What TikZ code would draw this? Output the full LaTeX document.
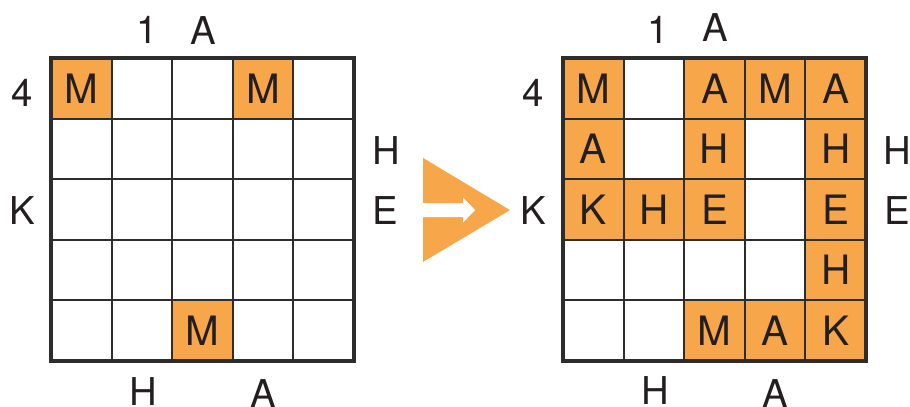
\documentclass[tikz,border=0pt]{standalone}
\usepackage{fontspec}
\setmainfont{TeX Gyre Heros}
\definecolor{puzorange}{RGB}{247,166,74}
\definecolor{ink}{RGB}{35,31,32}
\definecolor{gridline}{RGB}{45,45,45}
\begin{document}
\begin{tikzpicture}[every node/.style={text=ink,inner sep=0pt},
  lit/.style={fill=puzorange,minimum size=1cm,font=\fontsize{19}{19}\selectfont},
  clue/.style={font=\fontsize{18}{18}\selectfont},
  gridrule/.style={gridline,line width=1pt},
  framerule/.style={gridline,line width=1.6pt}]
\useasboundingbox (-0.842,-0.759) rectangle (14.175,5.957);
% Puzzle (start)
\node[lit] (a11) at (0.5,4.5) {M};
\node[lit] (a14) at (3.5,4.5) {M};
\node[lit] (a53) at (2.5,0.5) {M};
\draw[gridrule] (0,0) grid (5,5);
\draw[framerule] (0,0) rectangle (5,5);
\node[clue] (aTop2) at (1.585,5.46) {1};
\node[clue] (aTop3) at (2.51,5.45) {A};
\node[clue] (aLeft1) at (-0.48,4.42) {4};
\node[clue] (aLeft3) at (-0.48,2.49) {K};
\node[clue] (aRight2) at (5.53,3.48) {H};
\node[clue] (aRight3) at (5.51,2.49) {E};
\node[clue] (aBot2) at (1.52,-0.50) {H};
\node[clue] (aBot4) at (3.51,-0.53) {A};
% Arrow between the two grids
\fill[puzorange] (6.139,3.35) -- (7.574,2.49) -- (6.139,1.634) -- cycle;
\fill[white] (6.139,2.375) -- (6.80,2.375) -- (6.80,2.285) -- (7.0,2.49)
  -- (6.80,2.695) -- (6.80,2.605) -- (6.139,2.605) -- cycle;
% Puzzle (solved)
\begin{scope}[xshift=8.449cm]
\node[lit] (b11) at (0.5,4.5) {M};
\node[lit] (b13) at (2.5,4.5) {A};
\node[lit] (b14) at (3.5,4.5) {M};
\node[lit] (b15) at (4.5,4.5) {A};
\node[lit] (b21) at (0.5,3.5) {A};
\node[lit] (b23) at (2.5,3.5) {H};
\node[lit] (b25) at (4.5,3.5) {H};
\node[lit] (b31) at (0.5,2.5) {K};
\node[lit] (b32) at (1.5,2.5) {H};
\node[lit] (b33) at (2.5,2.5) {E};
\node[lit] (b35) at (4.5,2.5) {E};
\node[lit] (b45) at (4.5,1.5) {H};
\node[lit] (b53) at (2.5,0.5) {M};
\node[lit] (b54) at (3.5,0.5) {A};
\node[lit] (b55) at (4.5,0.5) {K};
\draw[gridrule] (0,0) grid (5,5);
\draw[framerule] (0,0) rectangle (5,5);
\node[clue] (bTop2) at (1.57,5.46) {1};
\node[clue] (bTop3) at (2.51,5.51) {A};
\node[clue] (bLeft1) at (-0.495,4.42) {4};
\node[clue] (bLeft3) at (-0.495,2.49) {K};
\node[clue] (bRight2) at (5.51,3.47) {H};
\node[clue] (bRight3) at (5.51,2.49) {E};
\node[clue] (bBot2) at (1.52,-0.48) {H};
\node[clue] (bBot4) at (3.5,-0.545) {A};
\end{scope}
\end{tikzpicture}
\end{document}
